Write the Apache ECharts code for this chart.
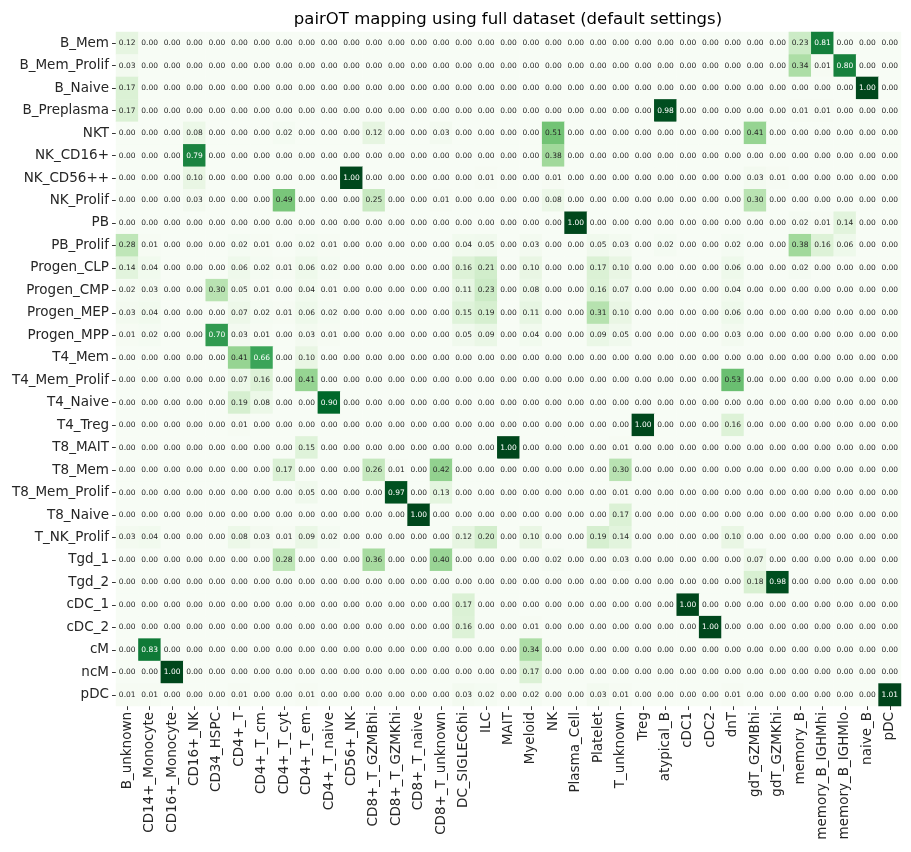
<!DOCTYPE html>
<html>
<head>
<meta charset="utf-8">
<script src="https://cdn.jsdelivr.net/npm/echarts@6/dist/echarts.min.js"></script>
<style>
  html, body { margin: 0; padding: 0; background: #fff; }
  #chart { width: 911px; height: 852px; }
</style>
</head>
<body>
<div id="chart"></div>
<script>
// query cell types (rows, top to bottom)
var rowLabels = ['B_Mem', 'B_Mem_Prolif', 'B_Naive', 'B_Preplasma', 'NKT', 'NK_CD16+', 'NK_CD56++',
  'NK_Prolif', 'PB', 'PB_Prolif', 'Progen_CLP', 'Progen_CMP', 'Progen_MEP', 'Progen_MPP',
  'T4_Mem', 'T4_Mem_Prolif', 'T4_Naive', 'T4_Treg', 'T8_MAIT', 'T8_Mem', 'T8_Mem_Prolif',
  'T8_Naive', 'T_NK_Prolif', 'Tgd_1', 'Tgd_2', 'cDC_1', 'cDC_2', 'cM', 'ncM', 'pDC']

// reference cell types (columns)
var colLabels = ['B_unknown', 'CD14+_Monocyte', 'CD16+_Monocyte', 'CD16+_NK', 'CD34_HSPC', 'CD4+_T',
  'CD4+_T_cm', 'CD4+_T_cyt', 'CD4+_T_em', 'CD4+_T_naive', 'CD56+_NK', 'CD8+_T_GZMBhi',
  'CD8+_T_GZMKhi', 'CD8+_T_naive', 'CD8+_T_unknown', 'DC_SIGLEC6hi', 'ILC', 'MAIT', 'Myeloid',
  'NK', 'Plasma_Cell', 'Platelet', 'T_unknown', 'Treg', 'atypical_B', 'cDC1', 'cDC2', 'dnT',
  'gdT_GZMBhi', 'gdT_GZMKhi', 'memory_B', 'memory_B_IGHMhi', 'memory_B_IGHMlo', 'naive_B', 'pDC']

// mapping values, one row per query cell type (10 + 10 + 10 + 5 columns)
var values = [
  [0.12, 0, 0, 0, 0, 0, 0, 0, 0, 0,  0, 0, 0, 0, 0, 0, 0, 0, 0, 0,  0, 0, 0, 0, 0, 0, 0, 0, 0, 0,  0.23, 0.81, 0, 0, 0],
  [0.03, 0, 0, 0, 0, 0, 0, 0, 0, 0,  0, 0, 0, 0, 0, 0, 0, 0, 0, 0,  0, 0, 0, 0, 0, 0, 0, 0, 0, 0,  0.34, 0.01, 0.80, 0, 0],
  [0.17, 0, 0, 0, 0, 0, 0, 0, 0, 0,  0, 0, 0, 0, 0, 0, 0, 0, 0, 0,  0, 0, 0, 0, 0, 0, 0, 0, 0, 0,  0, 0, 0, 1.00, 0],
  [0.17, 0, 0, 0, 0, 0, 0, 0, 0, 0,  0, 0, 0, 0, 0, 0, 0, 0, 0, 0,  0, 0, 0, 0, 0.98, 0, 0, 0, 0, 0,  0.01, 0.01, 0, 0, 0],
  [0, 0, 0, 0.08, 0, 0, 0, 0.02, 0, 0,  0, 0.12, 0, 0, 0.03, 0, 0, 0, 0, 0.51,  0, 0, 0, 0, 0, 0, 0, 0, 0.41, 0,  0, 0, 0, 0, 0],
  [0, 0, 0, 0.79, 0, 0, 0, 0, 0, 0,  0, 0, 0, 0, 0, 0, 0, 0, 0, 0.38,  0, 0, 0, 0, 0, 0, 0, 0, 0, 0,  0, 0, 0, 0, 0],
  [0, 0, 0, 0.10, 0, 0, 0, 0, 0, 0,  1.00, 0, 0, 0, 0, 0, 0.01, 0, 0, 0.01,  0, 0, 0, 0, 0, 0, 0, 0, 0.03, 0.01,  0, 0, 0, 0, 0],
  [0, 0, 0, 0.03, 0, 0, 0, 0.49, 0, 0,  0, 0.25, 0, 0, 0.01, 0, 0, 0, 0, 0.08,  0, 0, 0, 0, 0, 0, 0, 0, 0.30, 0,  0, 0, 0, 0, 0],
  [0, 0, 0, 0, 0, 0, 0, 0, 0, 0,  0, 0, 0, 0, 0, 0, 0, 0, 0, 0,  1.00, 0, 0, 0, 0, 0, 0, 0, 0, 0,  0.02, 0.01, 0.14, 0, 0],
  [0.28, 0.01, 0, 0, 0, 0.02, 0.01, 0, 0.02, 0.01,  0, 0, 0, 0, 0, 0.04, 0.05, 0, 0.03, 0,  0, 0.05, 0.03, 0, 0.02, 0, 0, 0.02, 0, 0,  0.38, 0.16, 0.06, 0, 0],
  [0.14, 0.04, 0, 0, 0, 0.06, 0.02, 0.01, 0.06, 0.02,  0, 0, 0, 0, 0, 0.16, 0.21, 0, 0.10, 0,  0, 0.17, 0.10, 0, 0, 0, 0, 0.06, 0, 0,  0.02, 0, 0, 0, 0],
  [0.02, 0.03, 0, 0, 0.30, 0.05, 0.01, 0, 0.04, 0.01,  0, 0, 0, 0, 0, 0.11, 0.23, 0, 0.08, 0,  0, 0.16, 0.07, 0, 0, 0, 0, 0.04, 0, 0,  0, 0, 0, 0, 0],
  [0.03, 0.04, 0, 0, 0, 0.07, 0.02, 0.01, 0.06, 0.02,  0, 0, 0, 0, 0, 0.15, 0.19, 0, 0.11, 0,  0, 0.31, 0.10, 0, 0, 0, 0, 0.06, 0, 0,  0, 0, 0, 0, 0],
  [0.01, 0.02, 0, 0, 0.70, 0.03, 0.01, 0, 0.03, 0.01,  0, 0, 0, 0, 0, 0.05, 0.09, 0, 0.04, 0,  0, 0.09, 0.05, 0, 0, 0, 0, 0.03, 0, 0,  0, 0, 0, 0, 0],
  [0, 0, 0, 0, 0, 0.41, 0.66, 0, 0.10, 0,  0, 0, 0, 0, 0, 0, 0, 0, 0, 0,  0, 0, 0, 0, 0, 0, 0, 0, 0, 0,  0, 0, 0, 0, 0],
  [0, 0, 0, 0, 0, 0.07, 0.16, 0, 0.41, 0,  0, 0, 0, 0, 0, 0, 0, 0, 0, 0,  0, 0, 0, 0, 0, 0, 0, 0.53, 0, 0,  0, 0, 0, 0, 0],
  [0, 0, 0, 0, 0, 0.19, 0.08, 0, 0, 0.90,  0, 0, 0, 0, 0, 0, 0, 0, 0, 0,  0, 0, 0, 0, 0, 0, 0, 0, 0, 0,  0, 0, 0, 0, 0],
  [0, 0, 0, 0, 0, 0.01, 0, 0, 0, 0,  0, 0, 0, 0, 0, 0, 0, 0, 0, 0,  0, 0, 0, 1.00, 0, 0, 0, 0.16, 0, 0,  0, 0, 0, 0, 0],
  [0, 0, 0, 0, 0, 0, 0, 0, 0.15, 0,  0, 0, 0, 0, 0, 0, 0, 1.00, 0, 0,  0, 0, 0.01, 0, 0, 0, 0, 0, 0, 0,  0, 0, 0, 0, 0],
  [0, 0, 0, 0, 0, 0, 0, 0.17, 0, 0,  0, 0.26, 0.01, 0, 0.42, 0, 0, 0, 0, 0,  0, 0, 0.30, 0, 0, 0, 0, 0, 0, 0,  0, 0, 0, 0, 0],
  [0, 0, 0, 0, 0, 0, 0, 0, 0.05, 0,  0, 0, 0.97, 0, 0.13, 0, 0, 0, 0, 0,  0, 0, 0.01, 0, 0, 0, 0, 0, 0, 0,  0, 0, 0, 0, 0],
  [0, 0, 0, 0, 0, 0, 0, 0, 0, 0,  0, 0, 0, 1.00, 0, 0, 0, 0, 0, 0,  0, 0, 0.17, 0, 0, 0, 0, 0, 0, 0,  0, 0, 0, 0, 0],
  [0.03, 0.04, 0, 0, 0, 0.08, 0.03, 0.01, 0.09, 0.02,  0, 0, 0, 0, 0, 0.12, 0.20, 0, 0.10, 0,  0, 0.19, 0.14, 0, 0, 0, 0, 0.10, 0, 0,  0, 0, 0, 0, 0],
  [0, 0, 0, 0, 0, 0, 0, 0.28, 0, 0,  0, 0.36, 0, 0, 0.40, 0, 0, 0, 0, 0.02,  0, 0, 0.03, 0, 0, 0, 0, 0, 0.07, 0,  0, 0, 0, 0, 0],
  [0, 0, 0, 0, 0, 0, 0, 0, 0, 0,  0, 0, 0, 0, 0, 0, 0, 0, 0, 0,  0, 0, 0, 0, 0, 0, 0, 0, 0.18, 0.98,  0, 0, 0, 0, 0],
  [0, 0, 0, 0, 0, 0, 0, 0, 0, 0,  0, 0, 0, 0, 0, 0.17, 0, 0, 0, 0,  0, 0, 0, 0, 0, 1.00, 0, 0, 0, 0,  0, 0, 0, 0, 0],
  [0, 0, 0, 0, 0, 0, 0, 0, 0, 0,  0, 0, 0, 0, 0, 0.16, 0, 0, 0.01, 0,  0, 0, 0, 0, 0, 0, 1.00, 0, 0, 0,  0, 0, 0, 0, 0],
  [0, 0.83, 0, 0, 0, 0, 0, 0, 0, 0,  0, 0, 0, 0, 0, 0, 0, 0, 0.34, 0,  0, 0, 0, 0, 0, 0, 0, 0, 0, 0,  0, 0, 0, 0, 0],
  [0, 0, 1.00, 0, 0, 0, 0, 0, 0, 0,  0, 0, 0, 0, 0, 0, 0, 0, 0.17, 0,  0, 0, 0, 0, 0, 0, 0, 0, 0, 0,  0, 0, 0, 0, 0],
  [0.01, 0.01, 0, 0, 0, 0.01, 0, 0, 0.01, 0,  0, 0, 0, 0, 0, 0.03, 0.02, 0, 0.02, 0,  0, 0.03, 0.01, 0, 0, 0, 0, 0.01, 0, 0,  0, 0, 0, 0, 1.01]
]

// matplotlib "Greens"
var greens = ['#f7fcf5', '#e5f5e0', '#c7e9c0', '#a1d99b', '#74c476', '#41ab5d', '#238b45', '#006d2c', '#00441b']

var cells = []
values.forEach(function (row, r) {
  row.forEach(function (v, c) {
    cells.push({
      value: [c, r, v],
      label: { color: v > 0.58 ? '#ffffff' : '#262626' }
    })
  })
})

var font = 'DejaVu Sans'
var chart = echarts.init(document.getElementById('chart'))
chart.setOption({
  animation: false,
  title: {
    text: 'pairOT mapping using full dataset (default settings)',
    left: 503,
    top: 6,
    textAlign: 'center',
    textStyle: { fontFamily: font, fontSize: 16.5, fontWeight: 'normal', color: '#000' }
  },
  grid: { left: 116, right: 10, top: 32, bottom: 146 },
  xAxis: {
    type: 'category',
    data: colLabels,
    axisLine: { show: false },
    axisTick: { show: true, length: 4, alignWithLabel: true, lineStyle: { color: '#333' } },
    axisLabel: { rotate: 90, interval: 0, margin: 6, fontFamily: font, fontSize: 13.5, color: '#262626' },
    splitLine: { show: false }
  },
  yAxis: {
    type: 'category',
    data: rowLabels,
    inverse: true,
    axisLine: { show: false },
    axisTick: { show: true, length: 4, alignWithLabel: true, lineStyle: { color: '#333' } },
    axisLabel: { interval: 0, margin: 7, fontFamily: font, fontSize: 13.5, color: '#262626' },
    splitLine: { show: false }
  },
  visualMap: {
    show: false,
    dimension: 2,
    min: 0,
    max: 1.01,
    inRange: { color: greens }
  },
  series: [
    {
      type: 'heatmap',
      data: cells,
      label: {
        show: true,
        fontFamily: font,
        fontSize: 7.5,
        formatter: function (p) { return p.value[2].toFixed(2) }
      },
      emphasis: { disabled: true }
    }
  ]
})
</script>
</body>
</html>
